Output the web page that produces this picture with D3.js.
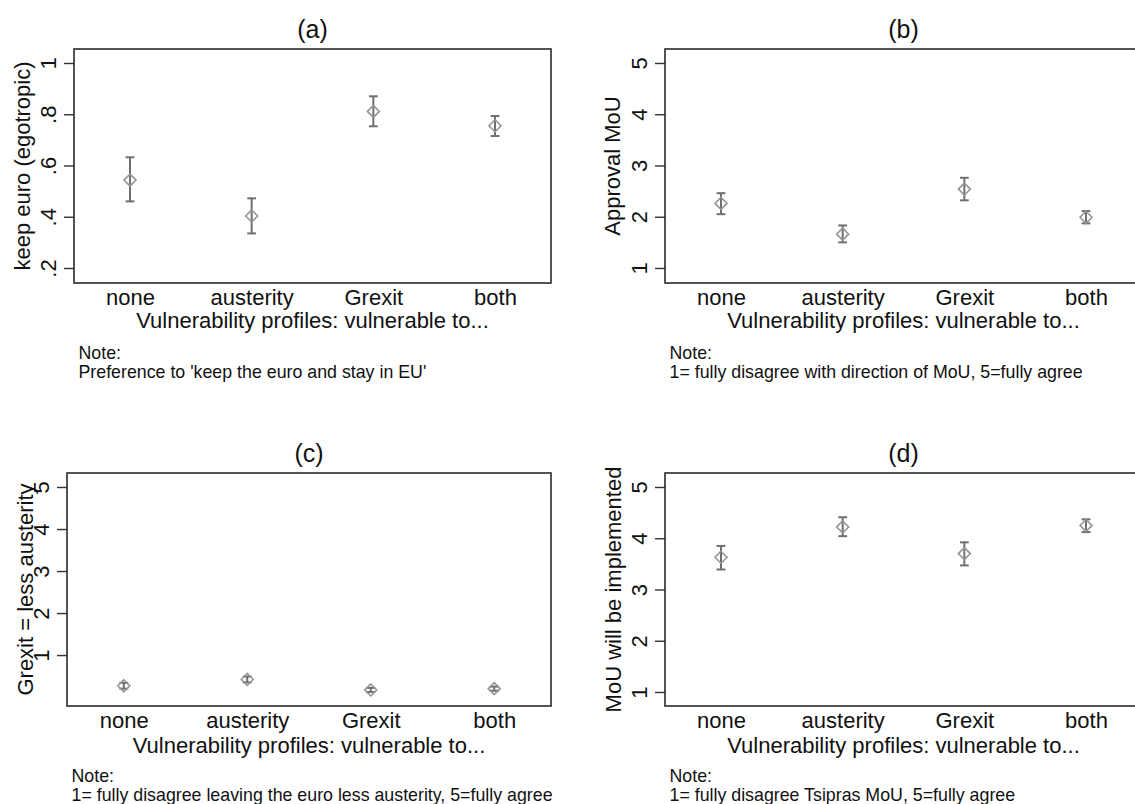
<!DOCTYPE html>
<html>
<head>
<meta charset="utf-8">
<script src="https://cdn.jsdelivr.net/npm/d3@7"></script>
<style>
  html, body { margin: 0; padding: 0; background: #fff; }
  svg { display: block; font-family: "Liberation Sans", Arial, Helvetica, sans-serif; }
</style>
</head>
<body>
<svg id="chart" width="1135" height="804"></svg>
<script>
// ---- data ----
const categories = ["none", "austerity", "Grexit", "both"];
const panelTitles = ["(a)", "(b)", "(c)", "(d)"];
const yTitles = ["keep euro (egotropic)", "Approval MoU", "Grexit = less austerity", "MoU will be implemented"];
const xTitle = "Vulnerability profiles: vulnerable to...";
const noteHeads = ["Note:", "Note:", "Note:", "Note:"];
const noteTexts = [
  "Preference to 'keep the euro and stay in EU'",
  "1= fully disagree with direction of MoU, 5=fully agree",
  "1= fully disagree leaving the euro less austerity, 5=fully agree",
  "1= fully disagree Tsipras MoU, 5=fully agree"
];

// panel (a)
const meanA = [0.543, 0.403, 0.811, 0.755];
const lowA  = [0.460, 0.335, 0.753, 0.715];
const highA = [0.632, 0.472, 0.870, 0.793];
const ticksA = [0.2, 0.4, 0.6, 0.8, 1];
const tickLabelsA = [".2", ".4", ".6", ".8", "1"];

// panel (b)
const meanB = [2.26, 1.66, 2.54, 1.99];
const lowB  = [2.05, 1.50, 2.32, 1.87];
const highB = [2.46, 1.83, 2.76, 2.11];
const ticksB = [1, 2, 3, 4, 5];
const tickLabelsB = ["1", "2", "3", "4", "5"];

// panel (c)
const meanC = [0.27, 0.42, 0.17, 0.20];
const lowC  = [0.20, 0.35, 0.12, 0.15];
const highC = [0.34, 0.49, 0.22, 0.25];
const ticksC = [1, 2, 3, 4, 5];
const tickLabelsC = ["1", "2", "3", "4", "5"];

// panel (d)
const meanD = [3.63, 4.22, 3.70, 4.25];
const lowD  = [3.39, 4.04, 3.47, 4.12];
const highD = [3.85, 4.41, 3.92, 4.37];
const ticksD = [1, 2, 3, 4, 5];
const tickLabelsD = ["1", "2", "3", "4", "5"];

// ---- layout ----
const panels = [
  {left: 74,  right: 551,  top: 49,  bottom: 283, dom: [0.1415, 1.0546], mean: meanA, low: lowA, high: highA, ticks: ticksA, tl: tickLabelsA, ytOff: -44, xtOff: 45},
  {left: 665, right: 1142, top: 49,  bottom: 283, dom: [0.707, 5.273],   mean: meanB, low: lowB, high: highB, ticks: ticksB, tl: tickLabelsB, ytOff: -45, xtOff: 45},
  {left: 67,  right: 551,  top: 473, bottom: 706, dom: [-0.212, 5.333],  mean: meanC, low: lowC, high: highC, ticks: ticksC, tl: tickLabelsC, ytOff: -34, xtOff: 47},
  {left: 665, right: 1142, top: 473, bottom: 706, dom: [0.727, 5.273],   mean: meanD, low: lowD, high: highD, ticks: ticksD, tl: tickLabelsD, ytOff: -44, xtOff: 47}
];

const svg = d3.select("#chart");
const textCol = "#111";
const ciCol = "#6f6f6f";
const mkCol = "#959595";

panels.forEach((p, i) => {
  const g = svg.append("g");
  const x = d3.scalePoint().domain(categories).range([p.left, p.right]).padding(0.46);
  const y = d3.scaleLinear().domain(p.dom).range([p.bottom, p.top]);

  // y axis ticks
  const yAxis = d3.axisLeft(y).tickValues(p.ticks).tickSize(10)
    .tickFormat((d, k) => p.tl[k]);
  const ya = g.append("g").attr("transform", `translate(${p.left},0)`).call(yAxis);
  ya.select(".domain").remove();
  ya.selectAll(".tick line").attr("stroke", "#333").attr("stroke-width", 1.4);
  ya.selectAll(".tick text")
    .attr("transform", "rotate(-90)")
    .attr("x", 0).attr("y", -18).attr("dy", 0)
    .attr("text-anchor", "middle")
    .attr("fill", textCol)
    .style("font-size", "22px");

  // x axis labels (no tick marks)
  const xAxis = d3.axisBottom(x).tickSize(0).tickPadding(0);
  const xa = g.append("g").attr("transform", `translate(0,${p.bottom})`).call(xAxis);
  xa.select(".domain").remove();
  xa.selectAll(".tick text").attr("y", 21.5).attr("dy", 0)
    .attr("fill", textCol).style("font-size", "22px");

  // box
  g.append("rect")
    .attr("x", p.left).attr("y", p.top)
    .attr("width", p.right - p.left).attr("height", p.bottom - p.top)
    .attr("fill", "none").attr("stroke", "#2a2a2a").attr("stroke-width", 1.6);

  // CI
  const cap = 4.4;
  const ci = g.append("g").selectAll("g").data(categories).join("g");
  ci.append("line")
    .attr("x1", d => x(d)).attr("x2", d => x(d))
    .attr("y1", (d, k) => y(p.low[k])).attr("y2", (d, k) => y(p.high[k]))
    .attr("stroke", ciCol).attr("stroke-width", 2);
  ci.append("line")
    .attr("x1", d => x(d) - cap).attr("x2", d => x(d) + cap)
    .attr("y1", (d, k) => y(p.low[k])).attr("y2", (d, k) => y(p.low[k]))
    .attr("stroke", ciCol).attr("stroke-width", 2);
  ci.append("line")
    .attr("x1", d => x(d) - cap).attr("x2", d => x(d) + cap)
    .attr("y1", (d, k) => y(p.high[k])).attr("y2", (d, k) => y(p.high[k]))
    .attr("stroke", ciCol).attr("stroke-width", 2);

  // diamonds
  const r = 6;
  g.append("g").selectAll("path").data(categories).join("path")
    .attr("d", (d, k) => {
      const cx = x(d), cy = y(p.mean[k]);
      return `M${cx},${cy - r}L${cx + r},${cy}L${cx},${cy + r}L${cx - r},${cy}Z`;
    })
    .attr("fill", "none").attr("stroke", mkCol).attr("stroke-width", 1.6);

  const cx = (p.left + p.right) / 2;
  // panel title
  g.append("text").attr("x", cx).attr("y", p.top - 11)
    .attr("text-anchor", "middle").attr("fill", textCol)
    .style("font-size", "25px").text(panelTitles[i]);

  // y title
  g.append("text")
    .attr("transform", `translate(${p.left + p.ytOff},${(p.top + p.bottom) / 2}) rotate(-90)`)
    .attr("text-anchor", "middle").attr("fill", textCol)
    .style("font-size", "22px").text(yTitles[i]);

  // x title
  const xc = (x(categories[0]) + x(categories[3])) / 2;
  g.append("text").attr("x", xc).attr("y", p.bottom + p.xtOff)
    .attr("text-anchor", "middle").attr("fill", textCol)
    .style("font-size", "22px").text(xTitle);

  // notes
  g.append("text").attr("x", p.left + 4.5).attr("y", p.bottom + 76)
    .attr("fill", textCol).style("font-size", "17.8px").text(noteHeads[i]);
  g.append("text").attr("x", p.left + 4.5).attr("y", p.bottom + 94.5)
    .attr("fill", textCol).style("font-size", "17.8px").text(noteTexts[i]);
});
</script>
</body>
</html>
